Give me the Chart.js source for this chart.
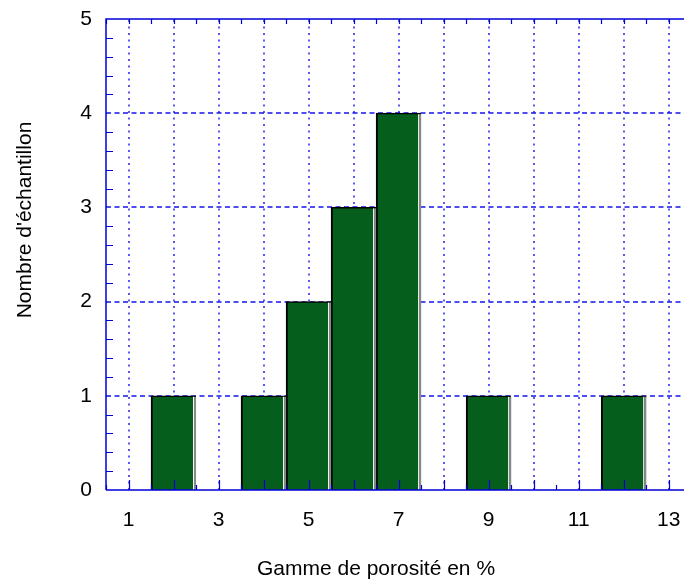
<!DOCTYPE html>
<html>
<head>
<meta charset="utf-8">
<script src="https://cdn.jsdelivr.net/npm/chart.js@4/dist/chart.umd.min.js"></script>
<style>
  html, body { margin: 0; padding: 0; background: #fff; }
</style>
</head>
<body>
<canvas id="graph" width="684" height="579"></canvas>
<script>
const porosite = [2, 4, 5, 6, 7, 9, 12];
const echantillons = [1, 1, 2, 3, 4, 1, 1];
const xTicks = [1, 2, 3, 4, 5, 6, 7, 8, 9, 10, 11, 12, 13];
const xLabels = ['1', '3', '5', '7', '9', '11', '13'];
const yTicks = [0, 1, 2, 3, 4, 5];
const titreX = 'Gamme de porosité en %';
const titreY = "Nombre d'échantillon";

const BLEU = 'rgb(0,0,215)';
const BLEU_GRILLE = 'rgb(20,20,235)';
const VERT = '#065e1c';
const police = '"Liberation Sans", Arial, sans-serif';
const taille = 21;

// quadrillage pointillé (dessiné ici pour maîtriser les tirets)
const quadrillage = {
  id: 'quadrillage',
  beforeDatasetsDraw(chart) {
    const ctx = chart.ctx;
    const a = chart.chartArea;
    const sx = chart.scales.x, sy = chart.scales.y;
    ctx.save();
    ctx.strokeStyle = BLEU_GRILLE;
    ctx.lineWidth = 1.4;
    ctx.setLineDash([2, 4.5]);
    ctx.beginPath();
    sx.ticks.forEach(t => {
      const px = Math.round(sx.getPixelForValue(t.value));
      ctx.moveTo(px, a.bottom);
      ctx.lineTo(px, a.top);
    });
    ctx.stroke();
    ctx.setLineDash([5, 3.5]);
    ctx.beginPath();
    sy.ticks.forEach(t => {
      if (t.value === sy.min || t.value === sy.max) return;
      const py = Math.round(sy.getPixelForValue(t.value));
      ctx.moveTo(a.left, py);
      ctx.lineTo(a.right + 2, py);
    });
    ctx.stroke();
    ctx.restore();
  }
};

// cadre, petites graduations vers l'intérieur, ombre des barres, titres d'axes
const cadre = {
  id: 'cadre',
  afterDatasetsDraw(chart) {
    const ctx = chart.ctx;
    const a = chart.chartArea;
    const sx = chart.scales.x, sy = chart.scales.y;

    // ombre grise à droite des barres
    const meta = chart.getDatasetMeta(0);
    ctx.save();
    meta.data.forEach(bar => {
      const p = bar.getProps(['x', 'y', 'base', 'width'], true);
      const r = p.x + p.width / 2;
      ctx.fillStyle = '#fff';
      ctx.fillRect(r - 3, p.y + 1, 1, p.base - p.y - 1);
      ctx.fillStyle = '#8a8a8a';
      ctx.fillRect(r - 2, p.y + 1, 2, p.base - p.y - 1);
    });

    ctx.strokeStyle = BLEU;
    ctx.lineWidth = 1.5;
    ctx.beginPath();
    ctx.moveTo(a.left, a.bottom);
    ctx.lineTo(a.left, a.top);
    ctx.lineTo(a.right + 2, a.top);
    ctx.moveTo(a.left, a.bottom);
    ctx.lineTo(a.right + 2, a.bottom);
    ctx.stroke();

    ctx.lineWidth = 1.2;
    ctx.beginPath();
    for (let v = 0.5; v <= sx.max; v += 0.5) {
      const px = Math.round(sx.getPixelForValue(v)) + 0.5;
      const len = Number.isInteger(v) ? 10 : 5;
      ctx.moveTo(px, a.bottom);
      ctx.lineTo(px, a.bottom - len);
      ctx.moveTo(px, a.top);
      ctx.lineTo(px, a.top + 5);
    }
    for (let i = 1; i < 25; i++) {
      if (i % 5 === 0) continue;
      const py = Math.round(sy.getPixelForValue(i / 5)) + 0.5;
      ctx.moveTo(a.left, py);
      ctx.lineTo(a.left + 7, py);
    }
    ctx.stroke();

    // titres d'axes
    ctx.fillStyle = '#000';
    ctx.font = taille + 'px ' + police;
    ctx.textAlign = 'center';
    ctx.textBaseline = 'middle';
    ctx.fillText(titreX, 376, 569);
    ctx.translate(25, 220);
    ctx.rotate(-Math.PI / 2);
    ctx.fillText(titreY, 0, 0);
    ctx.restore();
  }
};

new Chart(document.getElementById('graph'), {
  type: 'bar',
  data: {
    datasets: [{
      data: porosite.map((p, i) => ({ x: p, y: echantillons[i] })),
      backgroundColor: VERT,
      borderColor: '#000',
      borderWidth: { left: 2, top: 1.5, right: 0, bottom: 0 },
      borderSkipped: false,
      barPercentage: 1,
      categoryPercentage: 1
    }]
  },
  options: {
    responsive: false,
    animation: false,
    devicePixelRatio: 1,
    layout: { padding: { top: 19, right: 0, left: 0, bottom: 0 } },
    plugins: { legend: { display: false }, tooltip: { enabled: false } },
    scales: {
      x: {
        type: 'linear',
        min: 0.5,
        max: 13.34,
        offset: false,
        afterBuildTicks: s => { s.ticks = xTicks.map(v => ({ value: v })); },
        afterFit: s => { s.height = 89; s.paddingLeft = 0; s.paddingRight = 0; },
        ticks: {
          autoSkip: false,
          maxRotation: 0,
          padding: 18,
          color: '#000',
          font: { family: police, size: taille },
          callback: v => xLabels.includes(String(v)) ? String(v) : ''
        },
        grid: { display: false, drawTicks: false },
        border: { display: false }
      },
      y: {
        min: 0,
        max: 5,
        afterBuildTicks: s => { s.ticks = yTicks.map(v => ({ value: v })); },
        afterFit: s => { s.width = 106; s.paddingTop = 0; s.paddingBottom = 0; },
        ticks: {
          padding: 14,
          color: '#000',
          font: { family: police, size: taille }
        },
        grid: { display: false, drawTicks: false },
        border: { display: false }
      }
    }
  },
  plugins: [quadrillage, cadre]
});
</script>
</body>
</html>
